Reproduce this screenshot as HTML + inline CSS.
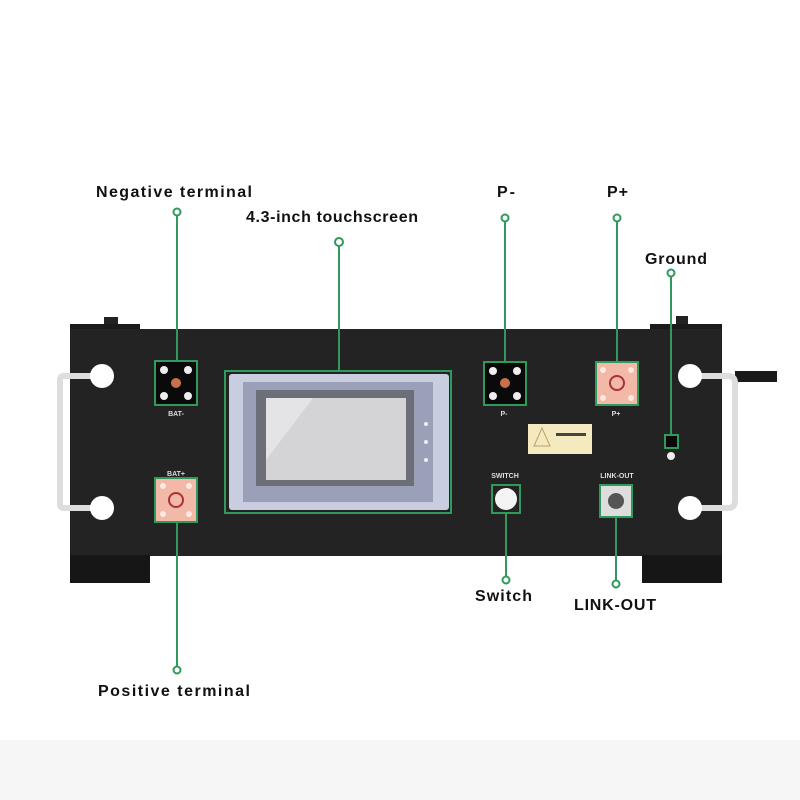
<!DOCTYPE html>
<html><head><meta charset="utf-8"><style>
html,body{margin:0;padding:0;background:#fff}
svg{display:block}
text{font-family:"Liberation Sans",sans-serif;fill:#111}
</style></head><body>
<svg width="800" height="800" viewBox="0 0 800 800" xmlns="http://www.w3.org/2000/svg">
<rect width="800" height="800" fill="#fff"/>
<rect y="740" width="800" height="60" fill="#f6f6f6"/>
<rect x="104" y="317" width="14" height="14" fill="#222"/>
<rect x="70" y="324" width="70" height="8" fill="#1a1a1a"/>
<rect x="676" y="316" width="12" height="14" fill="#222"/>
<rect x="650" y="324" width="72" height="8" fill="#1a1a1a"/>
<rect x="70" y="329" width="652" height="227" fill="#232323"/>
<rect x="70" y="555" width="80" height="28" fill="#161616"/>
<rect x="642" y="555" width="80" height="28" fill="#161616"/>
<path d="M102 376 H64 Q60 376 60 380 V504 Q60 508 64 508 H102" fill="none" stroke="#ddd" stroke-width="6"/>
<circle cx="102" cy="376" r="12" fill="#fff"/><circle cx="102" cy="508" r="12" fill="#fff"/>
<rect x="735" y="371" width="42" height="11" fill="#1a1a1a"/>
<path d="M690 376 H728 Q735 376 735 383 V501 Q735 508 728 508 H690" fill="none" stroke="#ddd" stroke-width="6"/>
<circle cx="690" cy="376" r="12" fill="#fff"/><circle cx="690" cy="508" r="12" fill="#fff"/>
<g stroke="#2f9a5c" stroke-width="2" fill="none">
<line x1="177" y1="216" x2="177" y2="361"/>
<line x1="339" y1="246" x2="339" y2="371"/>
<line x1="505" y1="222" x2="505" y2="362"/>
<line x1="617" y1="222" x2="617" y2="362"/>
<line x1="671" y1="276" x2="671" y2="435"/>
<line x1="506" y1="513" x2="506" y2="576"/>
<line x1="616" y1="518" x2="616" y2="580"/>
<line x1="177" y1="522" x2="177" y2="666"/>
<circle cx="177" cy="212" r="3.5" fill="#fff"/>
<circle cx="339" cy="242" r="4" fill="#fff"/>
<circle cx="505" cy="218" r="3.5" fill="#fff"/>
<circle cx="617" cy="218" r="3.5" fill="#fff"/>
<circle cx="671" cy="273" r="3.5" fill="#fff"/>
<circle cx="506" cy="580" r="3.5" fill="#fff"/>
<circle cx="616" cy="584" r="3.5" fill="#fff"/>
<circle cx="177" cy="670" r="3.5" fill="#fff"/>
</g>
<rect x="155" y="361" width="42" height="44" fill="#0a0a0a" stroke="#2f9a5c" stroke-width="2"/>
<g fill="#eee"><circle cx="164" cy="370" r="4"/><circle cx="188" cy="370" r="4"/><circle cx="164" cy="396" r="4"/><circle cx="188" cy="396" r="4"/></g>
<circle cx="176" cy="383" r="5" fill="#c8704a"/>
<text x="176" y="416" font-size="7" font-weight="bold" text-anchor="middle" style="fill:#ddd">BAT-</text>
<text x="176" y="476" font-size="7" font-weight="bold" text-anchor="middle" style="fill:#ddd">BAT+</text>
<rect x="155" y="478" width="42" height="44" fill="#f2b8a8" stroke="#2f9a5c" stroke-width="2"/>
<g fill="#fbe8e2"><circle cx="163" cy="486" r="3"/><circle cx="189" cy="486" r="3"/><circle cx="163" cy="514" r="3"/><circle cx="189" cy="514" r="3"/></g>
<circle cx="176" cy="500" r="7" fill="none" stroke="#a33" stroke-width="2"/>
<rect x="225" y="371" width="226" height="142" fill="none" stroke="#2f9a5c" stroke-width="2"/>
<rect x="229" y="374" width="220" height="136" rx="3" fill="#c9cde0"/>
<rect x="243" y="382" width="190" height="120" fill="#9aa0b7"/>
<rect x="256" y="390" width="158" height="96" fill="#6c6e78"/>
<rect x="266" y="398" width="140" height="82" fill="#d4d4d6"/>
<polygon points="266,398 313,398 266,460" fill="#e4e4e6"/>
<g fill="#eee"><circle cx="426" cy="424" r="2"/><circle cx="426" cy="442" r="2"/><circle cx="426" cy="460" r="2"/></g>
<rect x="484" y="362" width="42" height="43" fill="#0a0a0a" stroke="#2f9a5c" stroke-width="2"/>
<g fill="#eee"><circle cx="493" cy="371" r="4"/><circle cx="517" cy="371" r="4"/><circle cx="493" cy="396" r="4"/><circle cx="517" cy="396" r="4"/></g>
<circle cx="505" cy="383" r="5" fill="#c8704a"/>
<text x="504" y="416" font-size="7" font-weight="bold" text-anchor="middle" style="fill:#ddd">P-</text>
<rect x="596" y="362" width="42" height="43" fill="#f2b8a8" stroke="#2f9a5c" stroke-width="2"/>
<g fill="#fbe8e2"><circle cx="603" cy="370" r="3"/><circle cx="631" cy="370" r="3"/><circle cx="603" cy="398" r="3"/><circle cx="631" cy="398" r="3"/></g>
<circle cx="617" cy="383" r="7" fill="none" stroke="#a33" stroke-width="2"/>
<text x="616" y="416" font-size="7" font-weight="bold" text-anchor="middle" style="fill:#ddd">P+</text>
<rect x="528" y="424" width="64" height="30" fill="#f5e9bf"/>
<polygon points="542,428 534,446 550,446" fill="none" stroke="#b9a46a" stroke-width="1"/>
<rect x="556" y="433" width="30" height="3" fill="#444"/>
<rect x="665" y="435" width="13" height="13" fill="#0a0a0a" stroke="#2f9a5c" stroke-width="2"/>
<circle cx="671" cy="456" r="4" fill="#eee"/>
<text x="505" y="478" font-size="7" font-weight="bold" text-anchor="middle" style="fill:#ddd">SWITCH</text>
<rect x="492" y="485" width="28" height="28" fill="#232323" stroke="#2f9a5c" stroke-width="2"/>
<circle cx="506" cy="499" r="11" fill="#f4f4f4"/>
<text x="617" y="478" font-size="7" font-weight="bold" text-anchor="middle" style="fill:#ddd">LINK-OUT</text>
<rect x="600" y="485" width="32" height="32" fill="#ddd" stroke="#2f9a5c" stroke-width="2"/>
<circle cx="616" cy="501" r="8" fill="#555"/>
<g font-size="16" font-weight="bold">
<text x="96" y="197" textLength="156" lengthAdjust="spacing">Negative terminal</text>
<text x="246" y="222" textLength="172" lengthAdjust="spacing">4.3-inch touchscreen</text>
<text x="497" y="197" textLength="18" lengthAdjust="spacing">P-</text>
<text x="607" y="197" textLength="21" lengthAdjust="spacing">P+</text>
<text x="645" y="264" textLength="62" lengthAdjust="spacing">Ground</text>
<text x="475" y="601" textLength="57" lengthAdjust="spacing">Switch</text>
<text x="574" y="610" textLength="82" lengthAdjust="spacing">LINK-OUT</text>
<text x="98" y="696" textLength="152" lengthAdjust="spacing">Positive  terminal</text>
</g>
</svg>
</body></html>
